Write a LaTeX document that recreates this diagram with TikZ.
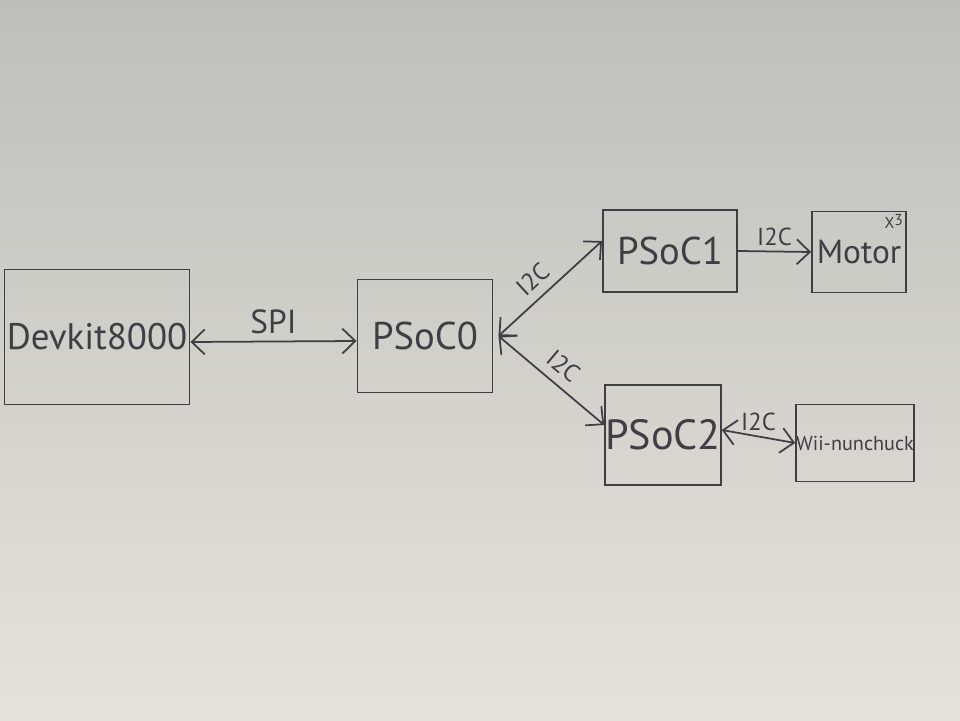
\documentclass[tikz,border=0pt]{standalone}
\usepackage{fontspec}
\setmainfont{PT Sans}
\usetikzlibrary{arrows.meta}

\definecolor{ink}{RGB}{62,62,68}
\definecolor{boardtop}{RGB}{190,191,187}
\definecolor{boardbot}{RGB}{228,226,220}

\begin{document}
\begin{tikzpicture}[
		block/.style={draw=ink, line width=1.1pt, text=ink, inner sep=0pt, anchor=center},
		link/.style={draw=ink, line width=1pt, {Straight Barb[length=2.6mm,width=5mm]}-{Straight Barb[length=2.6mm,width=5mm]}},
		oneway/.style={draw=ink, line width=1pt, -{Straight Barb[length=2.6mm,width=5mm]}},
		bus/.style={text=ink, font=\fontsize{14}{16}\selectfont, inner sep=1pt}
	]
		% whiteboard
		\shade[top color=boardtop, bottom color=boardbot] (0,0) rectangle (19.2,14.4);
		\useasboundingbox (0,0) rectangle (19.2,14.4);

		\node[block, minimum width=3.7cm, minimum height=2.7cm, font=\fontsize{21}{24}\selectfont] (dev) at (1.94,7.66) {Devkit8000};
		\node[block, minimum width=2.7cm, minimum height=2.26cm, font=\fontsize{22}{26}\selectfont] (p0) at (8.5,7.68) {PSoC0};
		\node[block, minimum width=2.68cm, minimum height=1.64cm, font=\fontsize{22}{26}\selectfont] (p1) at (13.4,9.38) {PSoC1};
		\node[block, minimum width=1.88cm, minimum height=1.62cm, font=\fontsize{19}{22}\selectfont] (motor) at (17.18,9.36) {Motor};
		\node[block, minimum width=2.26cm, minimum height=2.0cm, font=\fontsize{24}{28}\selectfont] (p2) at (13.26,5.7) {PSoC2};
		\node[block, minimum width=2.34cm, minimum height=1.54cm, font=\fontsize{11.5}{14}\selectfont] (wii) at (17.1,5.54) {Wii-nunchuck};
		\node[anchor=north east, text=ink, font=\small, inner sep=2pt] (x3) at (motor.north east) {X\raisebox{0.4ex}{3}};

		\draw[link] ([yshift=-1mm]dev.east) -- node[bus, above=3pt, font=\fontsize{19}{22}\selectfont] (spi) {SPI} ([yshift=-1mm]p0.west);
		\draw[link] ([xshift=1mm]p0.east) -- node[bus, above=4pt, sloped, pos=0.45] (i2ca) {I2C} ([yshift=2mm]p1.west);
		\draw[link] ([xshift=1mm]p0.east) -- node[bus, above=4pt, sloped, pos=0.5] (i2cb) {I2C} ([yshift=2mm]p2.west);
		\draw[oneway] (p1.east) -- node[bus, above=2pt] (i2cc) {I2C} (motor.west);
		\draw[link] ([yshift=1mm]p2.east) -- node[bus, above=2pt] (i2cd) {I2C} (wii.west);
	\end{tikzpicture}
\end{document}
